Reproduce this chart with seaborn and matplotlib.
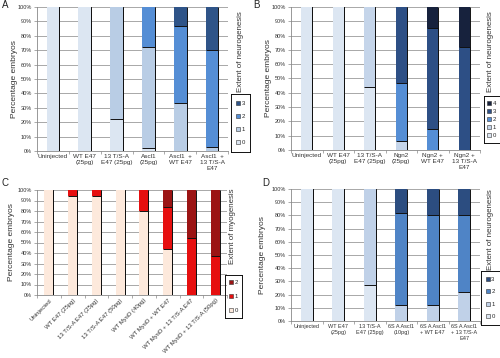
import numpy as np
import pandas as pd
import matplotlib
matplotlib.use("Agg")
import matplotlib.pyplot as plt
from matplotlib.lines import Line2D
import seaborn as sns

sns.set_theme(style="white")
plt.rcParams["font.family"] = ["Liberation Sans", "DejaVu Sans"]

# ---------------- data ----------------
A_categories = ["Uninjected", "WT E47\n(25pg)", "13 T/S-A\nE47 (25pg)", "Ascl1\n(25pg)",
                "Ascl1  +\nWT E47", "Ascl1  +\n13 T/S-A\nE47"]
A_level0 = [100, 100, 22, 2, 0, 0]
A_level1 = [0, 0, 78, 70, 33, 3]
A_level2 = [0, 0, 0, 28, 54, 67]
A_level3 = [0, 0, 0, 0, 13, 30]

B_categories = ["Uninjected", "WT E47\n(25pg)", "13 T/S-A\nE47 (25pg)", "Ngn2\n(25pg)",
                "Ngn2 +\nWT E47", "Ngn2 +\n13 T/S-A\nE47"]
B_level0 = [100, 100, 44, 0, 0, 0]
B_level1 = [0, 0, 56, 6, 0, 0]
B_level2 = [0, 0, 0, 41, 15, 0]
B_level3 = [0, 0, 0, 53, 70, 72]
B_level4 = [0, 0, 0, 0, 15, 28]

C_categories = ["Uninjected", "WT E47 (25pg)", "13 T/S-A E47 (25pg)", "13 T/S-A E47 (50pg)",
                "WT MyoD (40pg)", "WT MyoD + WT E47", "WT MyoD + 13 T/S-A E47",
                "WT MyoD + 13 T/S-A (50pg)"]
C_level0 = [100, 94, 94, 100, 80, 44, 0, 0]
C_level1 = [0, 6, 6, 0, 20, 40, 54, 37]
C_level2 = [0, 0, 0, 0, 0, 16, 46, 63]

D_categories = ["Uninjected", "WT E47\n(25pg)", "13 T/S-A\nE47 (25pg)", "6S A Ascl1\n(10pg)",
                "6S A Ascl1\n+ WT E47", "6S A Ascl1\n+ 13 T/S-A\nE47"]
D_level0 = [100, 100, 27, 0, 0, 0]
D_level1 = [0, 0, 73, 12, 12, 22]
D_level2 = [0, 0, 0, 70, 68, 58]
D_level3 = [0, 0, 0, 18, 20, 20]

y_ticklabels = ["0%", "10%", "20%", "30%", "40%", "50%", "60%", "70%", "80%", "90%", "100%"]

# ---------------- styles ----------------
blue_A = ["#dce6f2", "#b9cde5", "#558ed5", "#2f5488"]
blue_B = ["#dce6f2", "#c5d5ea", "#558ed5", "#2d4f85", "#17223d"]
blue_D = ["#dce6f2", "#c0d1e8", "#4f84c6", "#2c4d80"]
red_C = ["#fde9dc", "#e60f0f", "#9b1414"]

W, H = 500, 358
fig = plt.figure(figsize=(W / 100, H / 100), dpi=100)
FS = 4.3


def fx(px):
    return px / W


def fy(py):
    return 1 - py / H


def panel(rect, cats, levels, colors, width, rot=False, title="Extent of neurogenesis",
          title_xy=(0, 0), leg_rect=None, ylabel_x=0, lspace=1.2, xfs=FS + 0.3):
    ax = fig.add_axes(rect)
    n = len(cats)
    rows = []
    cum = np.zeros(n)
    for li, vals in enumerate(levels):
        cum = cum + np.array(vals, dtype=float)
        for ci, c in enumerate(cats):
            rows.append({"cat": c, "level": li, "top": cum[ci]})
    df = pd.DataFrame(rows)
    for li in range(len(levels) - 1, -1, -1):
        sub = df[df["level"] == li]
        sns.barplot(data=sub, x="cat", y="top", order=cats, color=colors[li],
                    saturation=1, width=width, errorbar=None, ax=ax, linewidth=0)
    # dark edges (right side and segment boundaries), taken from the drawn patches
    for p in ax.patches:
        h = p.get_height()
        if h < 0.5:
            continue
        x0, x1 = p.get_x(), p.get_x() + p.get_width()
        ax.plot([x1, x1], [0, h], color="#111111", lw=0.7, zorder=5, solid_capstyle="butt")
        if h < 99.5:
            ax.plot([x0, x1], [h, h], color="#111111", lw=0.7, zorder=5, solid_capstyle="butt")
    ax.set_xlim(-0.5, n - 0.5)
    ax.set_ylim(0, 100)
    ax.set_yticks(np.arange(0, 101, 10))
    ax.set_yticklabels(y_ticklabels, fontsize=FS - 0.3, color="#333333")
    ax.yaxis.grid(True, color="#9a9a9a", lw=0.6)
    ax.set_axisbelow(True)
    for s in ["top", "right"]:
        ax.spines[s].set_visible(False)
    for s in ["left", "bottom"]:
        ax.spines[s].set_color("#888888")
        ax.spines[s].set_linewidth(0.6)
    ax.set_xticks(np.arange(-0.5, n, 1), minor=True)
    ax.tick_params(axis="x", which="minor", length=2, width=0.5, color="#888888", bottom=True)
    ax.tick_params(axis="x", which="major", length=0, pad=2)
    ax.tick_params(axis="y", which="major", length=2, width=0.5, color="#888888", pad=1.5, left=True)
    ax.set_xticks(range(n))
    if rot:
        ax.set_xticklabels(cats, fontsize=FS, rotation=45, ha="right", rotation_mode="anchor",
                           color="#333333")
    else:
        ax.set_xticklabels(cats, fontsize=xfs, color="#333333", linespacing=1.3)
    ax.set_xlabel("")
    ax.set_ylabel("")
    fig.text(ylabel_x, rect[1] + rect[3] / 2, "Percentage embryos", rotation=90,
             fontsize=FS + 1.7, ha="center", va="center", color="#333333")
    fig.text(title_xy[0], title_xy[1], title, rotation=90, fontsize=FS + 1.4,
             ha="center", va="center", color="#333333")
    handles = [Line2D([], [], marker="s", ls="", markersize=2.6, markerfacecolor=colors[i],
                      markeredgecolor="#333333", markeredgewidth=0.4)
               for i in range(len(levels) - 1, -1, -1)]
    labels = [str(i) for i in range(len(levels) - 1, -1, -1)]
    lax = fig.add_axes(leg_rect)
    lax.set_xticks([])
    lax.set_yticks([])
    lax.patch.set_alpha(0)
    for s in lax.spines.values():
        s.set_visible(True)
        s.set_color("#111111")
        s.set_linewidth(0.7)
    lax.legend(handles, labels, loc="center", fontsize=FS, frameon=False,
               handletextpad=0.2, handlelength=0.7, labelspacing=lspace,
               borderpad=0.2, borderaxespad=0)
    return ax


# Panel A
panel([fx(37), fy(151), fx(228 - 37), fy(7) - fy(151)], A_categories,
      [A_level0, A_level1, A_level2, A_level3], blue_A, 0.4,
      title_xy=(fx(240), fy(52)), leg_rect=[fx(231), fy(152), fx(19), fy(94) - fy(152)],
      ylabel_x=fx(15), lspace=1.35)
# Panel B
panel([fx(291), fy(150), fx(480 - 291), fy(7) - fy(150)], B_categories,
      [B_level0, B_level1, B_level2, B_level3, B_level4], blue_B, 0.36,
      title_xy=(fx(491), fy(52)), leg_rect=[fx(484), fy(143), fx(15.5), fy(96) - fy(143)],
      ylabel_x=fx(268), lspace=0.45)
# Panel C
panel([fx(37), fy(295), fx(227 - 37), fy(190) - fy(295)], C_categories,
      [C_level0, C_level1, C_level2], red_C, 0.37, rot=True,
      title="Extent of myogenesis",
      title_xy=(fx(233), fy(226)), leg_rect=[fx(225), fy(318), fx(17), fy(275) - fy(318)],
      ylabel_x=fx(12), lspace=1.5)
# Panel D
panel([fx(291), fy(321), fx(480 - 291), fy(189) - fy(321)], D_categories,
      [D_level0, D_level1, D_level2, D_level3], blue_D, 0.38,
      title_xy=(fx(490), fy(230)), leg_rect=[fx(481), fy(325), fx(18.5), fy(271) - fy(325)],
      ylabel_x=fx(262), lspace=1.2, xfs=FS - 0.3)

for lbl, x, y in [("A", 2, 5), ("B", 253, 5), ("C", 2, 183), ("D", 262, 183)]:
    fig.text(fx(x), fy(y), lbl, fontsize=7, ha="left", va="center", color="#222222")

fig.savefig("out.png", dpi=100)
